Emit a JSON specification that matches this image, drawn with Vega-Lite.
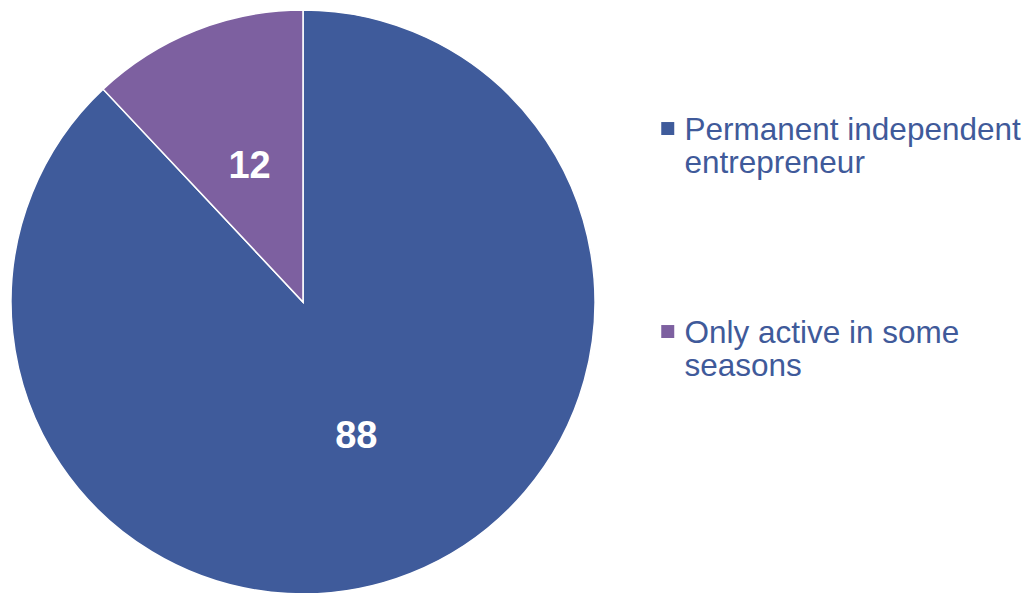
{
  "$schema": "https://vega.github.io/schema/vega-lite/v6.json",
  "width": 606,
  "height": 604,
  "padding": 0,
  "autosize": {"type": "pad"},
  "background": "white",
  "data": {"values": [
    {"category": "Permanent independent entrepreneur", "value": 88},
    {"category": "Only active in some seasons", "value": 12}
  ]},
  "encoding": {
    "theta": {"field": "value", "type": "quantitative", "stack": true},
    "order": {"field": "value", "type": "quantitative", "sort": "descending"}
  },
  "layer": [
    {
      "mark": {"type": "arc", "outerRadius": 292, "stroke": "white", "strokeWidth": 1.5},
      "encoding": {
        "color": {
          "field": "category", "type": "nominal",
          "sort": ["Permanent independent entrepreneur", "Only active in some seasons"],
          "scale": {"domain": ["Permanent independent entrepreneur", "Only active in some seasons"], "range": ["#3F5B9B", "#7D60A0"]},
          "legend": {
            "orient": "none", "legendX": 652, "legendY": 99, "padding": 0,
            "title": null, "symbolType": "M-1,1.12H1V3.12H-1Z", "symbolSize": 169, "symbolStrokeWidth": 0,
            "labelFont": "Liberation Sans", "labelFontSize": 31.5, "labelColor": "#3F5A9A",
            "labelLimit": 500, "rowPadding": 122, "labelOffset": 1, "labelBaseline": "top",
            "labelExpr": "datum.label == 'Permanent independent entrepreneur' ? ['Permanent independent', 'entrepreneur'] : ['Only active in some', 'seasons']",
            "encode": {"labels": {"lineHeight": {"value": 35}}}
          }
        }
      }
    },
    {
      "mark": {"type": "text", "radius": 145, "fontSize": 38, "fontWeight": "bold", "font": "Liberation Sans", "color": "white"},
      "encoding": {"text": {"field": "value", "type": "quantitative"}}
    }
  ],
  "config": {"view": {"stroke": null}}
}
